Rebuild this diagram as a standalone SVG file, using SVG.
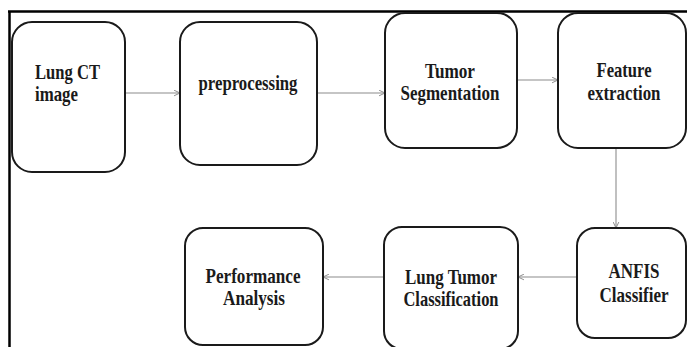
<svg xmlns="http://www.w3.org/2000/svg" width="687" height="347" viewBox="0 0 687 347">
  <style>
    .box { fill: #ffffff; stroke: #1a1a1a; stroke-width: 2; }
    .lbl { font-family: "Liberation Serif", "Times New Roman", serif; font-weight: bold; font-size: 21px; fill: #1a1a1a; }
    .c { text-anchor: middle; }
    .edge { fill: none; stroke: #8c8c8c; stroke-width: 1.1; }
    .frame { fill: none; stroke: #000000; stroke-width: 2.5; }
  </style>
  <defs>
    <marker id="arrow" viewBox="0 0 10 10" refX="9.5" refY="5" markerWidth="7" markerHeight="7" markerUnits="userSpaceOnUse" orient="auto">
      <path d="M1,1 L9.5,5 L1,9" fill="none" stroke="#8c8c8c" stroke-width="1.4"/>
    </marker>
  </defs>

  <rect width="687" height="347" fill="#ffffff"/>

  <!-- outer frame: top and left rules only -->
  <path class="frame" d="M8,11.5 H687 M9.5,11 V347"/>

  <!-- connectors -->
  <g id="connectors">
    <line class="edge" x1="125" y1="93" x2="180" y2="93" marker-end="url(#arrow)"/>
    <line class="edge" x1="317" y1="93" x2="385" y2="93" marker-end="url(#arrow)"/>
    <line class="edge" x1="517" y1="80" x2="558" y2="80" marker-end="url(#arrow)"/>
    <line class="edge" x1="616" y1="148" x2="616" y2="228" marker-end="url(#arrow)"/>
    <line class="edge" x1="577" y1="277" x2="518" y2="277" marker-end="url(#arrow)"/>
    <line class="edge" x1="384" y1="277" x2="323" y2="277" marker-end="url(#arrow)"/>
  </g>

  <!-- nodes -->
  <g id="lung-ct-image">
    <rect class="box" x="12" y="22" width="113" height="150" rx="20" ry="20"/>
    <text class="lbl" x="35" y="79" textLength="65" lengthAdjust="spacingAndGlyphs">Lung CT</text>
    <text class="lbl" x="35" y="101" textLength="43" lengthAdjust="spacingAndGlyphs">image</text>
  </g>

  <g id="preprocessing">
    <rect class="box" x="180" y="22" width="137" height="143" rx="20" ry="20"/>
    <text class="lbl c" x="248" y="90" textLength="99" lengthAdjust="spacingAndGlyphs">preprocessing</text>
  </g>

  <g id="tumor-segmentation">
    <rect class="box" x="385" y="13" width="132" height="135" rx="20" ry="20"/>
    <text class="lbl c" x="450" y="78" textLength="50" lengthAdjust="spacingAndGlyphs">Tumor</text>
    <text class="lbl c" x="450" y="100" textLength="99" lengthAdjust="spacingAndGlyphs">Segmentation</text>
  </g>

  <g id="feature-extraction">
    <rect class="box" x="558" y="13" width="128" height="135" rx="20" ry="20"/>
    <text class="lbl c" x="624" y="77" textLength="55" lengthAdjust="spacingAndGlyphs">Feature</text>
    <text class="lbl c" x="624" y="100" textLength="73" lengthAdjust="spacingAndGlyphs">extraction</text>
  </g>

  <g id="anfis-classifier">
    <rect class="box" x="577" y="228" width="109" height="110" rx="18" ry="18"/>
    <text class="lbl c" x="634" y="278" textLength="51" lengthAdjust="spacingAndGlyphs">ANFIS</text>
    <text class="lbl c" x="634" y="302" textLength="69" lengthAdjust="spacingAndGlyphs">Classifier</text>
  </g>

  <g id="lung-tumor-classification">
    <rect class="box" x="384" y="227" width="134" height="122" rx="18" ry="18"/>
    <text class="lbl c" x="451" y="284" textLength="92" lengthAdjust="spacingAndGlyphs">Lung Tumor</text>
    <text class="lbl c" x="451" y="306" textLength="95" lengthAdjust="spacingAndGlyphs">Classification</text>
  </g>

  <g id="performance-analysis">
    <rect class="box" x="185" y="228" width="138" height="117" rx="18" ry="18"/>
    <text class="lbl c" x="253" y="283" textLength="95" lengthAdjust="spacingAndGlyphs">Performance</text>
    <text class="lbl c" x="254" y="305" textLength="62" lengthAdjust="spacingAndGlyphs">Analysis</text>
  </g>
</svg>
